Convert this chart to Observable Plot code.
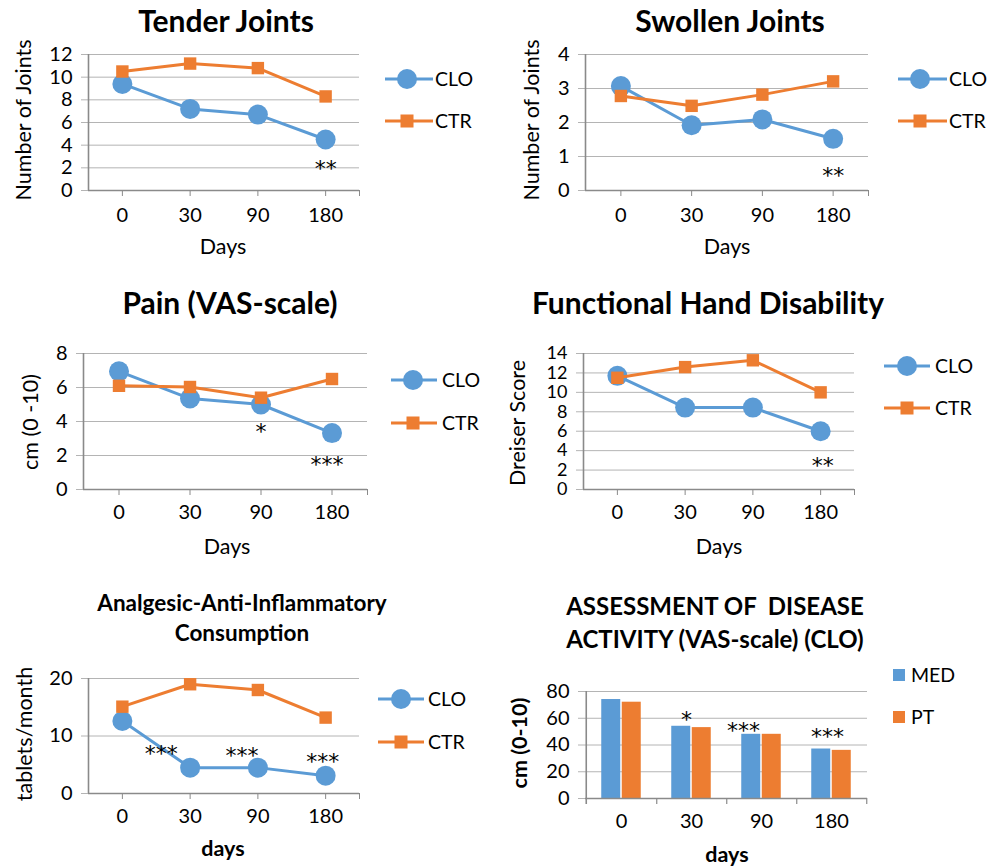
<!DOCTYPE html>
<html><head><meta charset="utf-8">
<script src="https://cdn.jsdelivr.net/npm/d3@7"></script>
<script src="https://cdn.jsdelivr.net/npm/@observablehq/plot@0.6"></script>
<style>
body{margin:0;background:#fff;}
#root{position:relative;width:993px;height:866px;font-family:Lato,sans-serif;overflow:hidden;background:#fff}
.panel{position:absolute}
#overlay{position:absolute;left:0;top:0;pointer-events:none}
#overlay text{font-family:Lato,sans-serif;fill:#000;white-space:pre}
</style></head><body><div id="root"></div>
<script>
// ---------- data ----------
const days = ["0", "30", "90", "180"];
const seriesNames = ["CLO", "CTR"];
const barSeriesNames = ["MED", "PT"];

const tenderCLO = [9.4, 7.2, 6.7, 4.5];
const tenderCTR = [10.5, 11.2, 10.8, 8.3];
const tenderTicks = [0, 2, 4, 6, 8, 10, 12];

const swollenCLO = [3.07, 1.92, 2.09, 1.52];
const swollenCTR = [2.78, 2.49, 2.82, 3.21];
const swollenTicks = [0, 1, 2, 3, 4];

const painCLO = [6.95, 5.35, 5.0, 3.32];
const painCTR = [6.1, 6.03, 5.4, 6.5];
const painTicks = [0, 2, 4, 6, 8];

const handCLO = [11.7, 8.43, 8.43, 6.0];
const handCTR = [11.5, 12.6, 13.3, 10.0];
const handTicks = [0, 2, 4, 6, 8, 10, 12, 14];

const analgCLO = [12.6, 4.5, 4.5, 3.1];
const analgCTR = [15.1, 19.0, 18.0, 13.2];
const analgTicks = [0, 10, 20];

const vasMED = [74, 54, 48, 37];
const vasPT = [72, 53, 48, 36];
const vasTicks = [0, 20, 40, 60, 80];

const tenderStars = [{day: "180", label: "**"}];
const swollenStars = [{day: "180", label: "**"}];
const painStars = [{day: "90", label: "*"}, {day: "180", label: "***"}];
const handStars = [{day: "180", label: "**"}];
const analgStars = [{day: "30", label: "***"}, {day: "90", label: "***"}, {day: "180", label: "***"}];
const vasStars = [{day: "30", label: "*"}, {day: "90", label: "***"}, {day: "180", label: "***"}];

// ---------- style ----------
const BLUE = "#5B9BD5", ORANGE = "#ED7D31", GRID = "#b4b4b4", AXIS = "#8a8a8a";
const FONT = "Lato, sans-serif";
const STARFONT = "'DejaVu Sans', sans-serif";
const root = document.getElementById("root");

function place(svg, left, top) {
  svg.classList.add("panel");
  svg.style.left = left + "px";
  svg.style.top = top + "px";
  root.appendChild(svg);
}

function linePanel(cfg) {
  const {left, top, width, height, mt, mr, mb, ml, ymax, yticks, clo, ctr, stars, starOffsets, xPad, yFont = 20} = cfg;
  const rows = days.map((d, i) => ({i, day: d, CLO: clo[i], CTR: ctr[i]}));
  const starMarks = stars.map((s, k) => {
    const i = days.indexOf(s.day);
    return Plot.text([s], {x: () => i, y: () => clo[i], text: "label", dx: starOffsets[k][0], dy: starOffsets[k][1],
      fontSize: 22, fill: "black", fontFamily: STARFONT});
  });
  const svg = Plot.plot({
    width, height, marginTop: mt, marginRight: mr, marginBottom: mb, marginLeft: ml,
    style: {fontFamily: FONT, fontSize: "20px", color: "black", background: "transparent", overflow: "visible"},
    x: {domain: [-0.5, days.length - 0.5], axis: null},
    y: {domain: [0, ymax], axis: null},
    marks: [
      Plot.gridY(yticks.filter(t => t > 0), {stroke: GRID, strokeOpacity: 1, strokeWidth: 1}),
      Plot.axisY(yticks, {tickSize: 7, tickPadding: 9, stroke: GRID, strokeOpacity: 1, fill: "black", fontSize: yFont, label: null}),
      Plot.ruleX([-0.5], {stroke: AXIS, strokeWidth: 1.6}),
      Plot.ruleY([0], {stroke: AXIS, strokeWidth: 1.6}),
      Plot.axisX(d3.range(days.length), {tickFormat: i => days[i], tickSize: 6, tickPadding: xPad, stroke: AXIS, fill: "black", fontSize: 20, label: null}),
      Plot.ruleX([days.length - 0.5], {y1: 0, y2: 0, insetBottom: -6, stroke: AXIS}),
      Plot.line(rows, {x: "i", y: "CLO", stroke: BLUE, strokeWidth: 3}),
      Plot.dot(rows, {x: "i", y: "CLO", r: 10, fill: BLUE, stroke: "none"}),
      Plot.line(rows, {x: "i", y: "CTR", stroke: ORANGE, strokeWidth: 3}),
      Plot.dot(rows, {x: "i", y: "CTR", symbol: "square", r: 7, fill: ORANGE, stroke: "none"}),
      ...starMarks
    ]
  });
  place(svg, left, top);
}

function barPanel(cfg) {
  const {left, top, width, height, mt, mr, mb, ml, ymax, yticks, med, pt, stars, starOffsets} = cfg;
  const rows = days.map((d, i) => ({day: d, MED: med[i], PT: pt[i]}));
  const bw = (width - ml - mr) / days.length;
  const barW = 20;
  const starMarks = stars.map((s, k) => {
    const i = days.indexOf(s.day);
    return Plot.text([s], {x: "day", y: () => med[i], text: "label", dx: -barW / 2 + starOffsets[k][0], dy: starOffsets[k][1],
      fontSize: 22, fill: "black", fontFamily: STARFONT});
  });
  const svg = Plot.plot({
    width, height, marginTop: mt, marginRight: mr, marginBottom: mb, marginLeft: ml,
    style: {fontFamily: FONT, fontSize: "20px", color: "black", background: "transparent", overflow: "visible"},
    x: {domain: days, padding: 0, axis: null},
    y: {domain: [0, ymax], axis: null},
    marks: [
      Plot.gridY(yticks.filter(t => t > 0), {stroke: GRID, strokeOpacity: 1, strokeWidth: 1}),
      Plot.axisY(yticks, {tickSize: 7, tickPadding: 9, stroke: GRID, strokeOpacity: 1, fill: "black", fontSize: 20, label: null}),
      Plot.barY(rows, {x: "day", y: "MED", fill: BLUE, insetLeft: bw / 2 - barW, insetRight: bw / 2 + 0.5}),
      Plot.barY(rows, {x: "day", y: "PT", fill: ORANGE, insetLeft: bw / 2 + 0.5, insetRight: bw / 2 - barW}),
      Plot.ruleY([0], {stroke: AXIS, strokeWidth: 1.6}),
      Plot.ruleX([days[0]], {dx: -bw / 2, insetBottom: -6, stroke: AXIS, strokeWidth: 1.6}),
      Plot.ruleX(days, {dx: bw / 2, y1: 0, y2: 0, insetBottom: -6, stroke: AXIS, strokeWidth: 1.2}),
      Plot.axisX(days, {tickSize: 0, tickPadding: 15, fill: "black", fontSize: 20, label: null}),
      ...starMarks
    ]
  });
  place(svg, left, top);
}

linePanel({left: 0, top: 0, width: 497, height: 270, mt: 54, mr: 138, mb: 80, ml: 88,
  ymax: 12, yticks: tenderTicks, clo: tenderCLO, ctr: tenderCTR, stars: tenderStars, starOffsets: [[0, 29]], xPad: 11});
linePanel({left: 497, top: 0, width: 496, height: 270, mt: 54, mr: 125, mb: 80, ml: 88,
  ymax: 4, yticks: swollenTicks, clo: swollenCLO, ctr: swollenCTR, stars: swollenStars, starOffsets: [[0, 37]], xPad: 11});
linePanel({left: 0, top: 280, width: 497, height: 290, mt: 73, mr: 130, mb: 81, ml: 83,
  ymax: 8, yticks: painTicks, clo: painCLO, ctr: painCTR, stars: painStars, starOffsets: [[0, 27], [-5, 32]], xPad: 9});
linePanel({left: 497, top: 280, width: 496, height: 290, mt: 73, mr: 139, mb: 81, ml: 86,
  ymax: 14, yticks: handTicks, clo: handCLO, ctr: handCTR, stars: handStars, starOffsets: [[2, 35]], xPad: 9, yFont: 18});
linePanel({left: 0, top: 580, width: 497, height: 286, mt: 98, mr: 138, mb: 73, ml: 88,
  ymax: 20, yticks: analgTicks, clo: analgCLO, ctr: analgCTR, stars: analgStars, starOffsets: [[-29, -14], [-16, -12], [-3, -14]], xPad: 9});
barPanel({left: 497, top: 580, width: 496, height: 286, mt: 111, mr: 126, mb: 68, ml: 88,
  ymax: 80, yticks: vasTicks, med: vasMED, pt: vasPT, stars: vasStars, starOffsets: [[5, -6], [-8, -3], [6, -12]]});

// ---------- titles, axis titles, legends ----------
const NS = "http://www.w3.org/2000/svg";
const ov = document.createElementNS(NS, "svg");
ov.setAttribute("id", "overlay");
ov.setAttribute("width", 993);
ov.setAttribute("height", 866);
root.appendChild(ov);
function txt(s, x, y, size, weight, anchor = "middle", rotate = false) {
  const t = document.createElementNS(NS, "text");
  t.textContent = s;
  t.setAttribute("x", x); t.setAttribute("y", y);
  t.setAttribute("font-size", size);
  t.setAttribute("font-weight", weight);
  t.setAttribute("text-anchor", anchor);
  if (rotate) t.setAttribute("transform", `rotate(-90 ${x} ${y})`);
  ov.appendChild(t);
}
function el(tag, attrs) {
  const e = document.createElementNS(NS, tag);
  for (const k in attrs) e.setAttribute(k, attrs[k]);
  ov.appendChild(e);
}
const LS = 19.5;
function lineLegend(x1, x2, xm, xt, y1, y2) {
  el("line", {x1, x2, y1, y2: y1, stroke: BLUE, "stroke-width": 3});
  el("circle", {cx: xm, cy: y1, r: 10, fill: BLUE});
  txt(seriesNames[0], xt, y1 + 7, LS, 400, "start");
  el("line", {x1, x2, y1: y2, y2, stroke: ORANGE, "stroke-width": 3});
  el("rect", {x: xm - 6.5, y: y2 - 6.5, width: 13, height: 13, fill: ORANGE});
  txt(seriesNames[1], xt, y2 + 7, LS, 400, "start");
}

const TS = 30;
txt("Tender Joints", 226, 32, TS, 700);
txt("Swollen Joints", 730, 32, TS, 700);
txt("Pain (VAS-scale)", 230, 314, TS, 700);
txt("Functional Hand Disability", 708, 314, TS, 700);
txt("Analgesic-Anti-Inflammatory", 242, 611, 22.5, 700);
txt("Consumption", 242, 641, 22.5, 700);
txt("ASSESSMENT OF  DISEASE", 715, 615, 24, 700);
txt("ACTIVITY (VAS-scale) (CLO)", 715, 648, 24, 700);

const AS = 21.5;
txt("Days", 223, 254, AS, 400);
txt("Days", 727, 254, AS, 400);
txt("Days", 227, 554, AS, 400);
txt("Days", 719, 554, AS, 400);
txt("days", 223, 856, AS, 700);
txt("days", 727, 862, AS, 700);

txt("Number of Joints", 31, 120, AS, 400, "middle", true);
txt("Number of Joints", 539, 120, AS, 400, "middle", true);
txt("cm (0 -10)", 38, 422, AS, 400, "middle", true);
txt("Dreiser Score", 525, 423, AS, 400, "middle", true);
txt("tablets/month", 32, 734, AS, 400, "middle", true);
txt("cm (0-10)", 527, 743, AS, 700, "middle", true);

lineLegend(385, 433, 407, 435, 79, 121);
lineLegend(898, 947, 920, 949, 79, 121);
lineLegend(391, 437, 413, 442, 380, 423);
lineLegend(884, 930, 907, 935, 366, 408);
lineLegend(378, 424, 401, 428, 699, 742);
el("rect", {x: 893, y: 669, width: 12, height: 12, fill: BLUE});
txt(barSeriesNames[0], 911, 682, LS, 400, "start");
el("rect", {x: 893, y: 711, width: 12, height: 12, fill: ORANGE});
txt(barSeriesNames[1], 911, 724, LS, 400, "start");
</script></body></html>
